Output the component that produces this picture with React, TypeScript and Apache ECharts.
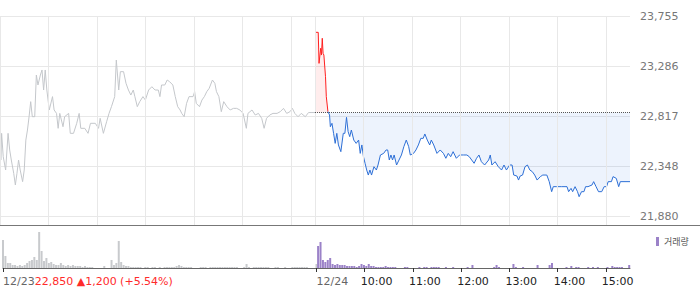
import React, { useEffect, useRef } from "react";
import * as echarts from "echarts";

// ---- price data (minutes counted from 12/23 09:00; 12/24 09:00 = 390) ----
const day1Times = [0,1,2,4,7,10,12,14,17,19,21,23,25,28,30,32,34,36,38,40,43,45,47,50,52,54,56,58,61,65,67,70,72,74,78,80,85,87,91,95,98,100,105,109,112,118,122,124,128,132,135,138,142,144,147,149,153,156,159,162,165,167,170,173,177,180,184,188,192,196,198,200,204,207,210,214,217,220,223,225,228,231,234,239,241,243,247,250,253,256,259,263,266,268,271,274,277,281,285,289,293,297,301,305,307,312,316,320,324,327,330,334,338,343,347,351,355,359,362,365,369,373,378,382,390];
const day1Prices = [22999,22405,22655,22436,22311,22655,22499,22405,22280,22171,22280,22405,22311,22202,22311,22592,22686,22811,22952,22811,22811,23202,23108,23202,23249,23061,23249,23061,22874,22999,22874,22842,22702,22842,22717,22811,22842,22655,22655,22749,22842,22702,22702,22655,22749,22749,22702,22796,22655,22764,22842,22905,22999,23342,23061,23233,23233,23124,23061,23014,23061,22999,22905,22952,22999,22967,23061,23092,23061,23061,22999,23108,23108,23155,23139,23108,22999,22905,22874,22842,22811,22936,22999,22999,23046,22936,22905,22967,22999,23046,23077,23155,23124,23046,22999,22858,22952,22905,22874,22889,22889,22874,22842,22702,22842,22874,22827,22842,22796,22702,22796,22827,22842,22842,22858,22889,22842,22858,22889,22842,22811,22842,22811,22850,22850];

const upTimes = [391,394,395,397,398,399,400,401,403,404,406];
const upPrices = [23602,23602,23311,23452,23389,23546,23405,23389,23186,22999,22858];

const downTimes = [406,408,409,411,413,415,417,419,422,425,427,429,431,433,435,438,441,444,446,448,450,452,454,456,458,460,463,466,468,471,475,478,480,482,484,486,488,491,494,497,500,503,506,508,512,515,518,521,524,526,529,532,534,537,541,545,549,552,555,558,561,565,569,574,578,581,584,587,590,593,596,600,605,607,609,613,617,621,624,627,631,634,636,640,642,644,647,650,653,656,659,662,665,669,672,677,680,683,685,689,695,702,704,707,709,712,715,717,720,723,725,728,733,735,738,741,745,748,751,753,757,759,763,766,768,780];
const downPrices = [22858,22827,22717,22749,22655,22561,22655,22546,22483,22655,22655,22805,22671,22624,22686,22592,22561,22592,22467,22546,22436,22374,22311,22264,22311,22264,22342,22311,22358,22452,22467,22499,22499,22405,22452,22405,22452,22358,22405,22452,22530,22592,22530,22452,22467,22499,22546,22608,22608,22649,22592,22546,22592,22546,22467,22499,22467,22421,22467,22436,22483,22421,22452,22452,22452,22436,22405,22374,22421,22452,22389,22358,22405,22452,22358,22389,22342,22311,22358,22311,22358,22358,22264,22255,22217,22255,22264,22342,22358,22311,22296,22264,22217,22249,22264,22264,22202,22108,22155,22155,22155,22155,22108,22139,22108,22155,22108,22061,22108,22108,22155,22155,22171,22202,22155,22108,22108,22155,22155,22202,22202,22249,22233,22155,22202,22202];

const prevClose = 22850;

// ---- volume, 3-minute bins (thousand shares) ----
const vol1 = [28,12,5,5,3,3,2,3,2,3, 5,7,8,11,8,36,17,7,10,5, 6,4,3,3,5,3,2,3,2,3, 2,2,2,1,2,1,1,1,0,0, 0,0,2,0,0,8,3,5,27,6, 3,2,2,1,1,1,1,1,0,1, 1,0,1,1,0,1,0,1,1,1, 1,1,2,3,2,1,1,1,1,0, 0,0,1,1,1,0,1,1,1,1, 1,1,1,1,1,1,1,1,0,0, 1,4,1,0,1,1,1,1,1,1, 1,0,0,1,1,0,0,1,0,0, 1,1,1,1,1,1,1,0,0,0, 4];
const vol2 = [22,26,8,6,8,10,4,3,4,3, 3,3,2,2,2,2,1,2,4,3, 2,4,2,2,1,1,1,1,2,1, 1,1,1,0,0,0,1,1,0,0, 0,0,1,0,1,1,0,1,1,1, 1,0,0,1,0,0,1,0,0,0, 0,0,1,0,3,0,0,0,0,0, 0,0,0,1,3,1,0,0,0,0, 0,4,1,0,0,1,0,0,0,0, 0,3,0,0,0,0,3,5,0,0, 0,0,0,1,0,2,0,1,1,0, 0,0,1,0,1,0,1,0,0,0, 1,0,2,1,1,1,1,0,0,3];
const day2VolStart = 392;

// ---- axis / label data ----
const yMin = 21880;
const yMax = 23755;
const yInterval = 468.75;
const gridMinutes = [0,60,120,180,240,300,360,390,450,510,570,630,690,750];
const dateTicks = [0, 390];
const dateLabels = ["12/23", "12/24"];
const timeTicks = [450, 510, 570, 630, 690, 750];
const timeLabels = ["10:00", "11:00", "12:00", "13:00", "14:00", "15:00"];
const closeText = "22,850 ▲1,200 (+5.54%)";
const volumeName = "거래량";

const zip = (xs: number[], ys: number[]) => xs.map((x, i) => [x, ys[i]]);

export default function App() {
  const ref = useRef<HTMLDivElement>(null);
  useEffect(() => {
    if (!ref.current) return;
    const chart = echarts.init(ref.current, null, { renderer: "svg" });
    const font = "DejaVu Sans";
    const timeShift = 5;
    chart.setOption({
      animation: false,
      textStyle: { fontFamily: font },
      grid: [
        { left: 0, width: 630, top: 16, height: 200 },
        { left: 0, width: 630, top: 16, height: 209 },
        { left: 0, width: 630, top: 225, height: 43 },
      ],
      legend: {
        left: 651,
        top: 232,
        itemWidth: 3,
        itemHeight: 9,
        selectedMode: false,
        data: [{ name: volumeName, icon: "rect" }],
        textStyle: { fontSize: 9, color: "#555", fontFamily: "Noto Sans CJK KR" },
      },
      xAxis: [
        { type: "value", gridIndex: 0, min: 0, max: 780, show: false },
        { type: "value", gridIndex: 1, min: 0, max: 780, show: false },
        {
          type: "value",
          gridIndex: 2,
          position: "bottom",
          min: 0,
          max: 780,
          splitLine: { show: false },
          axisLine: { show: true, lineStyle: { color: "#666", width: 1 } },
          axisTick: {
            show: true,
            customValues: [...dateTicks, ...timeTicks],
            length: 4,
            lineStyle: { color: "#333" },
          },
          axisLabel: {
            customValues: dateTicks,
            align: "left",
            margin: 8,
            fontSize: 11,
            color: "#666",
            formatter: (v: number) => {
              const i = dateTicks.indexOf(v);
              if (i === 0) return `{d|${dateLabels[0]}}{r|${closeText}}`;
              return `{d|${dateLabels[i] ?? ""}}`;
            },
            rich: {
              d: { color: "#666", fontSize: 11, fontFamily: font },
              r: { color: "#ff2b2b", fontSize: 11, fontFamily: font },
            },
          },
        },
        {
          type: "value",
          gridIndex: 2,
          position: "bottom",
          min: 0,
          max: 780,
          splitLine: { show: false },
          axisLine: { show: false },
          axisTick: { show: false },
          axisLabel: {
            customValues: timeTicks.map((t) => t - timeShift),
            align: "left",
            margin: 8,
            fontSize: 11,
            color: "#222",
            formatter: (v: number) => timeLabels[timeTicks.indexOf(Math.round(v + timeShift))] ?? "",
          },
        },
      ],
      yAxis: [
        {
          type: "value",
          gridIndex: 0,
          position: "right",
          min: yMin,
          max: yMax,
          interval: yInterval,
          axisLine: { show: false },
          axisTick: { show: false },
          splitLine: { show: true, lineStyle: { color: "#e8e8e8", width: 1 } },
          axisLabel: {
            margin: 10,
            fontSize: 11,
            color: "#777",
            formatter: (v: number) => Math.floor(v).toLocaleString("en-US"),
          },
        },
        { type: "value", gridIndex: 1, min: 0, max: 1, show: false },
        { type: "value", gridIndex: 2, min: 0, max: 43, show: false },
      ],
      graphic: [
        {
          type: "line",
          shape: { x1: 0, y1: 225.5, x2: 700, y2: 225.5 },
          style: { stroke: "#777", lineWidth: 1 },
          silent: true,
        },
      ],
      series: [
        {
          type: "line",
          xAxisIndex: 1,
          yAxisIndex: 1,
          data: [[0, 0]],
          symbol: "none",
          lineStyle: { opacity: 0 },
          silent: true,
          markLine: {
            silent: true,
            symbol: ["none", "none"],
            label: { show: false },
            lineStyle: { color: "#e8e8e8", type: "solid", width: 1 },
            data: gridMinutes.map((m) => ({ xAxis: m })),
          },
        },
        {
          type: "line",
          xAxisIndex: 0,
          yAxisIndex: 0,
          data: zip(day1Times, day1Prices),
          symbol: "none",
          lineStyle: { color: "#c4c7cb", width: 1 },
          silent: true,
        },
        {
          type: "line",
          xAxisIndex: 0,
          yAxisIndex: 0,
          data: zip(upTimes, upPrices),
          symbol: "none",
          lineStyle: { color: "#ff2020", width: 1 },
          areaStyle: { color: "rgba(255,0,0,0.1)", origin: prevClose },
          silent: true,
        },
        {
          type: "line",
          xAxisIndex: 0,
          yAxisIndex: 0,
          data: zip(downTimes, downPrices),
          symbol: "none",
          lineStyle: { color: "#2d6fd6", width: 1 },
          areaStyle: { color: "rgba(0,90,220,0.1)", origin: prevClose },
          silent: true,
          markLine: {
            silent: true,
            symbol: ["none", "none"],
            label: { show: false },
            lineStyle: { color: "#555", type: [1, 1], width: 1 },
            data: [[{ coord: [390, prevClose] }, { coord: [780, prevClose] }]],
          },
        },
        {
          type: "bar",
          name: "day1Volume",
          xAxisIndex: 2,
          yAxisIndex: 2,
          barWidth: 2,
          barGap: "-100%",
          itemStyle: { color: "#c8cacd" },
          data: vol1.map((v, i) => [i * 3, v]),
          silent: true,
        },
        {
          type: "bar",
          name: volumeName,
          xAxisIndex: 2,
          yAxisIndex: 2,
          barWidth: 2,
          barGap: "-100%",
          itemStyle: { color: "#9b82c8" },
          data: vol2.map((v, i) => [day2VolStart + i * 3, v]),
          silent: true,
        },
      ],
    });
    return () => chart.dispose();
  }, []);
  return (
    <div
      ref={ref}
      style={{ position: "fixed", left: 0, top: 0, width: 700, height: 289, background: "#fff" }}
    />
  );
}
